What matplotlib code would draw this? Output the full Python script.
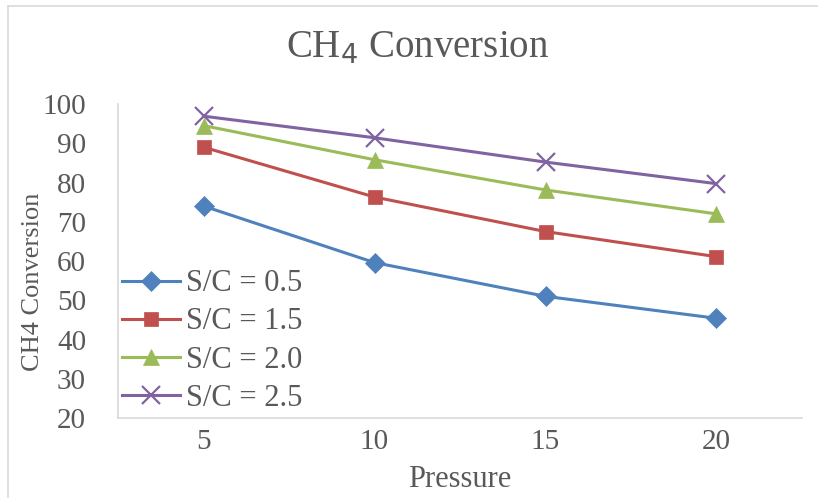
import matplotlib.pyplot as plt
from matplotlib.lines import Line2D

plt.rcParams['font.family'] = ['Liberation Serif', 'DejaVu Serif']

pressure = ['5', '10', '15', '20']
sc_labels = ['S/C = 0.5', 'S/C = 1.5', 'S/C = 2.0', 'S/C = 2.5']
conv_05 = [74.0, 59.6, 51.0, 45.4]
conv_15 = [89.0, 76.3, 67.5, 61.1]
conv_20 = [94.5, 85.8, 78.1, 72.0]
conv_25 = [96.9, 91.4, 85.2, 79.7]

series = [conv_05, conv_15, conv_20, conv_25]
colors = ['#4F81BD', '#C0504D', '#9BBB59', '#8064A2']
markers = ['D', 's', '^', 'x']
msizes = [10.5, 10, 12, 13]
text_color = '#595959'

fig = plt.figure(figsize=(8.18, 4.98), dpi=100)
ax = fig.add_axes([118 / 818, 80 / 498, 684 / 818, 314 / 498])

x = list(range(len(pressure)))
for vals, lab, c, m, ms in zip(series, sc_labels, colors, markers, msizes):
    ax.plot(x, vals, color=c, lw=2.2, marker=m, markersize=ms,
            markeredgewidth=1.6 if m == 'x' else 0.5, label=lab)

ax.set_xlim(-0.5, 3.5)
ax.set_ylim(20, 100)
ax.set_xticks(x)
ax.set_xticklabels(pressure)
ax.set_yticks(range(20, 101, 10))
ax.tick_params(axis='both', length=0, labelsize=21, labelcolor=text_color)
ax.tick_params(axis='y', pad=23)
ax.tick_params(axis='x', pad=8)
for side in ['top', 'right']:
    ax.spines[side].set_visible(False)
for side in ['left', 'bottom']:
    ax.spines[side].set_color('#D9D9D9')
    ax.spines[side].set_linewidth(1.2)

leg = ax.legend(loc='center left', bbox_to_anchor=(122 / 818, 1 - 341 / 498),
                bbox_transform=fig.transFigure, frameon=False,
                fontsize=22, labelcolor=text_color, handlelength=1.9,
                handletextpad=0.2, labelspacing=0.3, borderaxespad=0,
                borderpad=0)

fig.text(418 / 818, 1 - 48 / 498, r'CH$_4$ Conversion', fontsize=28,
         color=text_color, ha='center', va='center')
fig.text(33 / 818, 1 - 282 / 498, 'CH4 Conversion', fontsize=19,
         color=text_color, rotation=90, ha='center', va='center')
fig.text(460 / 818, 1 - 479 / 498, 'Pressure', fontsize=22,
         color=text_color, ha='center', va='center')

# light chart-area border along the top and left edges
fig.add_artist(Line2D([8 / 818, 1], [1 - 6 / 498, 1 - 6 / 498],
                      transform=fig.transFigure, color='#D9D9D9', lw=1.2))
fig.add_artist(Line2D([8 / 818, 8 / 818], [0, 1 - 6 / 498],
                      transform=fig.transFigure, color='#D9D9D9', lw=1.2))

fig.savefig('out.png', dpi=100, facecolor='white')
